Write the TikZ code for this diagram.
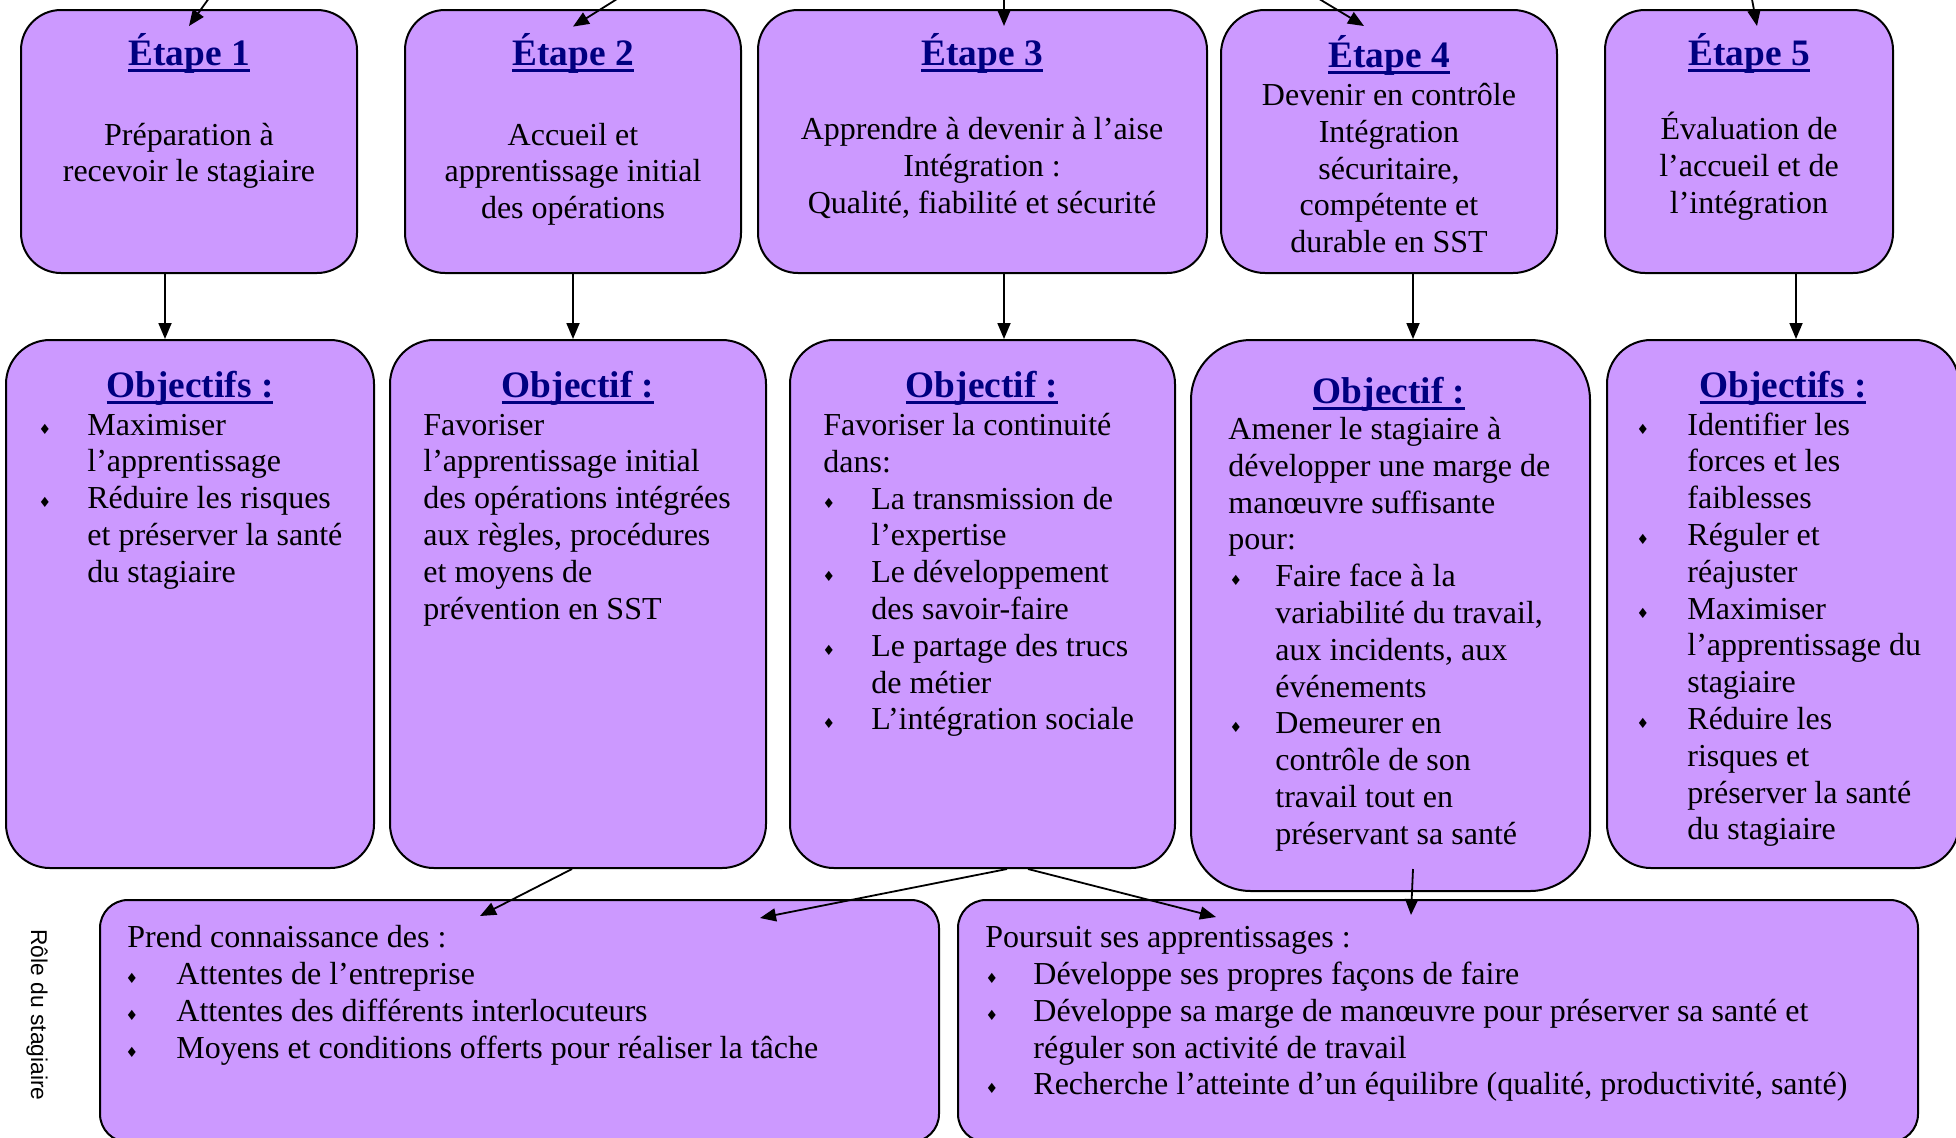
\documentclass[tikz,border=0pt]{standalone}
\usepackage{fontspec}
\setmainfont{Liberation Serif}
\newfontfamily\sansf{Liberation Sans}
\newfontfamily\symf{DejaVu Sans}
\usetikzlibrary{arrows.meta}
\definecolor{lav}{HTML}{CC99FF}
\definecolor{navyblue}{HTML}{000080}
\newcommand\ulh[1]{\setbox0\hbox{#1}\rlap{\rule[-3.6pt]{\wd0}{1.4pt}}\box0}
\newcommand\mkbox[6]{%
  \pgfmathsetmacro\bxw{(#4-#2)*0.5}\pgfmathsetmacro\bxh{(#5-#3)*0.5}%
  \node[box, rounded corners=#6pt, minimum width=\bxw pt, minimum height=\bxh pt] (#1) at ({(#2+#4)/2},{(#3+#5)/2}) {};}
\newcommand\txlines[5]{%
  \foreach \t [count=\i from 0] in {#5} {\node[body, anchor=#4] (#1-\i) at ({#2},{#3+36.8*\i}) {\t};}}
\newcommand\buls[4]{%
  \foreach \k in {#4} {\node[bul] (#1-b\k) at ({#2},{#3+36.8*\k-1}) {♦};}}
\begin{document}
\begin{tikzpicture}[x=0.5pt,y=-0.5pt,
  box/.style={draw=black, line width=1pt, fill=lav, inner sep=0pt},
  body/.style={font=\fontsize{16}{18.4}\selectfont, inner sep=0pt},
  head/.style={font=\bfseries\fontsize{18.67}{21}\selectfont, text=navyblue, inner sep=0pt, anchor=base},
  bul/.style={font=\symf\fontsize{7}{7}\selectfont, inner sep=0pt, anchor=base},
  arr/.style={line width=0.9pt, -{Triangle[length=8pt,width=6.5pt]}}
]
\useasboundingbox (0,0) rectangle (1956,1137);
\clip (0,0) rectangle (1956,1137);

% ---------- boxes ----------
\mkbox{e1}{21}{10}{357}{273}{20}
\mkbox{e2}{405}{10}{741}{273}{20}
\mkbox{e3}{758}{10}{1207}{273}{20}
\mkbox{e4}{1221}{10}{1557}{273}{22}
\mkbox{e5}{1605}{10}{1893}{273}{20}
\mkbox{o1}{6}{340}{374}{868}{22}
\mkbox{o2}{390}{340}{766}{868}{22}
\mkbox{o3}{790}{340}{1175}{868}{22}
\mkbox{o4}{1191}{340}{1590}{891}{30}
\mkbox{o5}{1607}{340}{1959}{868}{22}
\mkbox{b1}{100}{900}{939}{1142}{14}
\mkbox{b2}{958}{900}{1918}{1142}{14}

% ---------- top boxes text ----------
\node[head] (e1h) at (189,65) {\ulh{Étape 1}};
\txlines{e1t}{189}{145}{base}{{Préparation à},{recevoir le stagiaire}}
\node[head] (e2h) at (573,65) {\ulh{Étape 2}};
\txlines{e2t}{573}{145}{base}{{Accueil et},{apprentissage initial},{des opérations}}
\node[head] (e3h) at (982,65) {\ulh{Étape 3}};
\txlines{e3t}{982}{139.5}{base}{{Apprendre à devenir à l’aise},{Intégration :},{Qualité, fiabilité et sécurité}}
\node[head] (e4h) at (1389,67) {\ulh{Étape 4}};
\txlines{e4t}{1389}{105.5}{base}{{Devenir en contrôle},{Intégration},{sécuritaire,},{compétente et},{durable en SST}}
\node[head] (e5h) at (1749,65) {\ulh{Étape 5}};
\txlines{e5t}{1749}{139.5}{base}{{Évaluation de},{l’accueil et de},{l’intégration}}

% ---------- objective boxes text ----------
\node[head] (o1h) at (190,397) {\ulh{Objectifs :}};
\txlines{o1t}{87}{435}{base west}{{Maximiser},{l’apprentissage},{Réduire les risques},{et préserver la santé},{du stagiaire}}
\buls{o1}{45}{435}{0,2}

\node[head] (o2h) at (578,397) {\ulh{Objectif :}};
\txlines{o2t}{423}{435}{base west}{{Favoriser},{l’apprentissage initial},{des opérations intégrées},{aux règles, procédures},{et moyens de},{prévention en SST}}

\node[head] (o3h) at (982,397) {\ulh{Objectif :}};
\txlines{o3t}{823}{435.5}{base west}{{Favoriser la continuité},{dans:}}
\txlines{o3u}{871}{509.1}{base west}{{La transmission de},{l’expertise},{Le développement},{des savoir-faire},{Le partage des trucs},{de métier},{L’intégration sociale}}
\buls{o3}{829}{435.5}{2,4,6,8}

\node[head] (o4h) at (1389,403) {\ulh{Objectif :}};
\txlines{o4t}{1228}{439.5}{base west}{{Amener le stagiaire à},{développer une marge de},{manœuvre suffisante},{pour:}}
\txlines{o4u}{1275}{586.7}{base west}{{Faire face à la},{variabilité du travail,},{aux incidents, aux},{événements},{Demeurer en},{contrôle de son},{travail tout en},{préservant sa santé}}
\buls{o4}{1236}{439.5}{4,8}

\node[head] (o5h) at (1783,397) {\ulh{Objectifs :}};
\txlines{o5t}{1687}{435}{base west}{{Identifier les},{forces et les},{faiblesses},{Réguler et},{réajuster},{Maximiser},{l’apprentissage du},{stagiaire},{Réduire les},{risques et},{préserver la santé},{du stagiaire}}
\buls{o5}{1643}{435}{0,3,5,8}

% ---------- bottom boxes text ----------
\txlines{b1t}{127}{947}{base west}{{Prend connaissance des :}}
\txlines{b1u}{176}{984.5}{base west}{{Attentes de l’entreprise},{Attentes des différents interlocuteurs},{Moyens et conditions offerts pour réaliser la tâche}}
\buls{b1}{132}{947.7}{1,2,3}

\txlines{b2t}{985}{947}{base west}{{Poursuit ses apprentissages :}}
\txlines{b2u}{1033}{984.5}{base west}{{Développe ses propres façons de faire},{Développe sa marge de manœuvre pour préserver sa santé et},{réguler son activité de travail},{Recherche l’atteinte d’un équilibre (qualité, productivité, santé)}}
\buls{b2}{992}{947.7}{1,2,4}

\node[font=\sansf\fontsize{11.4}{13}\selectfont, rotate=-90, inner sep=0pt] (role) at (37,1015) {Rôle du stagiaire};

% ---------- incoming arrows (sources off the picture) ----------
\coordinate (s1) at (212,-6);
\coordinate (s2) at (625,-6);
\coordinate (s3) at (1004,-6);
\coordinate (s4) at (1311,-6);
\coordinate (s5) at (1751,-6);
\draw[arr] (s1) -- ([yshift=-8.5pt]e1.north);
\draw[arr] (s2) -- ([yshift=-8.8pt]e2.north);
\draw[arr] (s3) -- ([xshift=10.75pt,yshift=-8.5pt]e3.north);
\draw[arr] (s4) -- ([xshift=-12.5pt,yshift=-8.5pt]e4.north);
\draw[arr] (s5) -- ([xshift=4pt,yshift=-8.5pt]e5.north);

% ---------- step -> objective ----------
\coordinate (x1) at (165,0);
\coordinate (x2) at (573,0);
\coordinate (x3) at (1004,0);
\coordinate (x4) at (1413,0);
\coordinate (x5) at (1796,0);
\draw[arr] (x1 |- e1.south) -- (x1 |- o1.north);
\draw[arr] (x2 |- e2.south) -- (x2 |- o2.north);
\draw[arr] (x3 |- e3.south) -- (x3 |- o3.north);
\draw[arr] (x4 |- e4.south) -- (x4 |- o4.north);
\draw[arr] (x5 |- e5.south) -- (x5 |- o5.north);

% ---------- objective -> role ----------
\draw[arr] ([xshift=-3pt]o2.south) -- ([xshift=190.5pt,yshift=-8.5pt]b1.north west);
\draw[arr] ([xshift=12.25pt]o3.south) -- ([xshift=330.5pt,yshift=-9.5pt]b1.north west);
\draw[arr] ([xshift=22.75pt]o3.south) -- ([xshift=129.5pt,yshift=-9pt]b2.north west);
\draw[arr] ([xshift=11.25pt,yshift=11.5pt]o4.south) -- ([xshift=227pt,yshift=-8pt]b2.north west);
\end{tikzpicture}
\end{document}
